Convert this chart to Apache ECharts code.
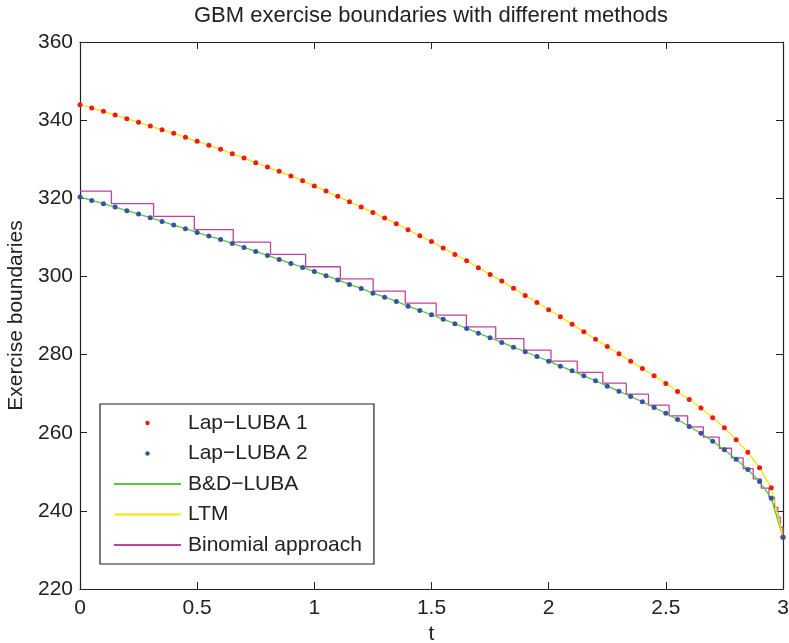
<!DOCTYPE html>
<html>
<head>
<meta charset="utf-8">
<script src="https://cdn.jsdelivr.net/npm/echarts@6/dist/echarts.min.js"></script>
<style>
  html, body { margin: 0; padding: 0; background: #fff; }
  #chart { width: 789px; height: 643px; }
</style>
</head>
<body>
<div id="chart"></div>
<script>
// time grid of the Laplace points
var tGrid = [0, 0.05, 0.1, 0.15, 0.2, 0.25, 0.3, 0.35, 0.4, 0.45,
  0.5, 0.55, 0.6, 0.65, 0.7, 0.75, 0.8, 0.85, 0.9, 0.95,
  1, 1.05, 1.1, 1.15, 1.2, 1.25, 1.3, 1.35, 1.4, 1.45,
  1.5, 1.55, 1.6, 1.65, 1.7, 1.75, 1.8, 1.85, 1.9, 1.95,
  2, 2.05, 2.1, 2.15, 2.2, 2.25, 2.3, 2.35, 2.4, 2.45,
  2.5, 2.55, 2.6, 2.65, 2.7, 2.75, 2.8, 2.85, 2.9, 2.95, 3];

var lapLuba1 = [343.97, 343.10, 342.25, 341.31, 340.38, 339.44, 338.49, 337.57, 336.62, 335.60,
  334.57, 333.55, 332.52, 331.42, 330.29, 329.12, 327.99, 326.89, 325.69, 324.51,
  323.12, 321.84, 320.50, 319.13, 317.75, 316.39, 314.93, 313.50, 311.96, 310.42,
  308.96, 307.25, 305.63, 304.02, 302.23, 300.51, 298.80, 297.00, 295.13, 293.34,
  291.47, 289.68, 287.79, 285.84, 283.94, 282.07, 280.20, 278.31, 276.44, 274.57,
  272.60, 270.55, 268.50, 266.30, 263.82, 261.25, 258.18, 255.00, 251.01, 245.89,
  233.24];

var lapLuba2 = [320.31, 319.46, 318.62, 317.75, 316.82, 315.95, 315.03, 314.08, 313.14, 312.22,
  311.27, 310.32, 309.48, 308.45, 307.42, 306.40, 305.38, 304.35, 303.33, 302.30,
  301.28, 300.18, 299.10, 297.95, 296.93, 295.72, 294.70, 293.60, 292.39, 291.29,
  290.19, 289.07, 287.89, 286.68, 285.48, 284.30, 283.10, 281.90, 280.72, 279.51,
  278.31, 277.03, 275.85, 274.57, 273.30, 271.91, 270.63, 269.27, 267.91, 266.45,
  264.99, 263.38, 261.59, 259.85, 257.82, 255.62, 253.21, 250.58, 247.50, 243.23,
  233.24];

// the smooth curves sit right on top of the dots
var bdLuba = lapLuba2;
var ltm = lapLuba1;

// binomial boundary: time of each drop and the level it drops to
var binomT = [0, 0.134, 0.314, 0.488, 0.654, 0.813, 0.963, 1.111, 1.251, 1.388,
  1.520, 1.649, 1.774, 1.894, 2.010, 2.122, 2.231, 2.331, 2.426, 2.514,
  2.593, 2.660, 2.728, 2.780, 2.830, 2.873, 2.907, 2.940, 2.964, 2.978, 2.988, 3.0];
var binomV = [321.84, 318.62, 315.36, 311.96, 308.78, 305.63, 302.48, 299.35, 296.24, 293.16,
  290.10, 287.10, 284.10, 281.13, 278.31, 275.45, 272.68, 269.86, 267.04, 264.33,
  261.51, 258.85, 256.03, 253.57, 250.80, 248.20, 245.80, 243.50, 240.90, 238.40, 235.80, 233.24];

var xTicks = [0, 0.5, 1, 1.5, 2, 2.5, 3];
var yTicks = [220, 240, 260, 280, 300, 320, 340, 360];

function pairs(xs, ys) {
  return xs.map(function (x, i) { return [x, ys[i]]; });
}

var FONT = '"Liberation Sans", Arial, sans-serif';
var INK = '#222';
// small dot in the middle of a 67x14 legend slot
var dotIcon = 'path://M0,0M67,14M31.3,7a2.2,2.2 0 1 0 4.4,0a2.2,2.2 0 1 0 -4.4,0Z';
// line series: hide the centre marker, keep the line
var noMarker = { color: 'rgba(0,0,0,0)', opacity: 0, borderWidth: 0 };

var chart = echarts.init(document.getElementById('chart'));

var frameX = {
  type: 'value', min: xTicks[0], max: xTicks[xTicks.length - 1], interval: 0.5,
  axisLine: { show: true, onZero: false, lineStyle: { color: INK, width: 1.2 } },
  axisTick: { show: true, inside: true, length: 7, lineStyle: { color: INK } },
  splitLine: { show: false }
};
var frameY = {
  type: 'value', min: yTicks[0], max: yTicks[yTicks.length - 1], interval: 20,
  axisLine: { show: true, onZero: false, lineStyle: { color: INK, width: 1.2 } },
  axisTick: { show: true, inside: true, length: 7, lineStyle: { color: INK } },
  splitLine: { show: false }
};

var option = {
  animation: false,
  backgroundColor: '#fff',
  title: {
    text: 'GBM exercise boundaries with different methods',
    left: 426, top: 0, textAlign: 'center',
    textStyle: { fontFamily: FONT, fontSize: 22, fontWeight: 'normal', color: INK }
  },
  grid: { left: 80, right: 6, top: 42, bottom: 54, outerBoundsMode: 'none', containLabel: false },
  legend: {
    orient: 'vertical', left: 100, top: 404,
    padding: [7, 12, 7, 13],
    itemWidth: 67, itemHeight: 14, itemGap: 6.5,
    borderColor: INK, borderWidth: 1.2, backgroundColor: '#fff',
    selectedMode: false,
    textStyle: { fontFamily: FONT, fontSize: 21, lineHeight: 24, color: INK, padding: [0, 0, 0, 2] },
    data: [
      { name: 'Lap\u2212LUBA 1', icon: dotIcon },
      { name: 'Lap\u2212LUBA 2', icon: dotIcon },
      { name: 'B&D\u2212LUBA', itemStyle: noMarker },
      { name: 'LTM', itemStyle: noMarker },
      { name: 'Binomial approach', itemStyle: noMarker }
    ]
  },
  xAxis: [
    Object.assign({}, frameX, {
      position: 'bottom', name: 't', nameLocation: 'middle', nameGap: 24,
      nameTextStyle: { fontFamily: FONT, fontSize: 21, color: INK },
      axisLabel: {
        fontFamily: FONT, fontSize: 21, color: INK, margin: 9,
        formatter: function (v) { return String(v); }
      }
    }),
    Object.assign({}, frameX, { position: 'top', axisLabel: { show: false } })
  ],
  yAxis: [
    Object.assign({}, frameY, {
      position: 'left', name: 'Exercise boundaries', nameLocation: 'middle', nameGap: 53,
      nameTextStyle: { fontFamily: FONT, fontSize: 21, color: INK },
      axisLabel: { fontFamily: FONT, fontSize: 21, color: INK, margin: 7 }
    }),
    Object.assign({}, frameY, { position: 'right', axisLabel: { show: false } })
  ],
  series: [
    {
      name: 'Binomial approach', type: 'line', step: 'end', symbol: 'none', z: 2,
      data: pairs(binomT, binomV),
      lineStyle: { color: '#c0419f', width: 1.3 }, itemStyle: { color: '#c0419f' }
    },
    {
      name: 'B&D\u2212LUBA', type: 'line', symbol: 'none', z: 3,
      data: pairs(tGrid, bdLuba),
      lineStyle: { color: '#58c83c', width: 1.3 }, itemStyle: { color: '#58c83c' }
    },
    {
      name: 'LTM', type: 'line', symbol: 'none', z: 3,
      data: pairs(tGrid, ltm),
      lineStyle: { color: '#f4e600', width: 1.3 }, itemStyle: { color: '#f4e600' }
    },
    {
      name: 'Lap\u2212LUBA 1', type: 'scatter', symbol: 'circle', symbolSize: 5, z: 4,
      data: pairs(tGrid, lapLuba1),
      itemStyle: { color: '#f01818', opacity: 1 }
    },
    {
      name: 'Lap\u2212LUBA 2', type: 'scatter', symbol: 'circle', symbolSize: 5, z: 5,
      data: pairs(tGrid, lapLuba2),
      itemStyle: { color: '#3555a3', opacity: 1 }
    }
  ]
};

chart.setOption(option);
</script>
</body>
</html>
